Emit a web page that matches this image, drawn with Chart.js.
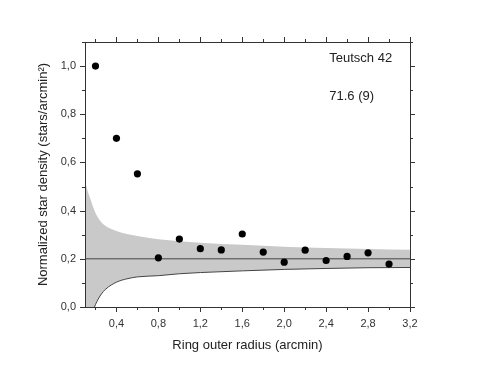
<!DOCTYPE html>
<html>
<head>
<meta charset="utf-8">
<script src="https://cdn.jsdelivr.net/npm/chart.js@4/dist/chart.umd.min.js"></script>
<style>
  body { margin: 0; background: #fff; }
  #wrap { width: 477px; height: 369px; }
</style>
</head>
<body>
<div id="wrap"><canvas id="myChart"></canvas></div>
<script>
// measured star density per ring
const radius = [0.2, 0.4, 0.6, 0.8, 1.0, 1.2, 1.4, 1.6, 1.8, 2.0, 2.2, 2.4, 2.6, 2.8, 3.0];
const density = [1.0, 0.70, 0.553, 0.204, 0.282, 0.242, 0.237, 0.303, 0.228, 0.186, 0.236, 0.193, 0.210, 0.225, 0.178];

// background level and its confidence band
const background = 0.2;
const bandRadius = [0.1, 0.12, 0.15, 0.2, 0.25, 0.3, 0.4, 0.5, 0.6, 0.8, 1.0, 1.2, 1.6, 2.0, 2.4, 2.8, 3.2];
const bandUpper = [0.525, 0.49, 0.45, 0.39, 0.355, 0.335, 0.315, 0.303, 0.295, 0.281, 0.273, 0.267, 0.258, 0.250, 0.245, 0.241, 0.238];
const bandLower = [-0.12, -0.09, -0.05, 0.01, 0.05, 0.075, 0.103, 0.117, 0.125, 0.130, 0.138, 0.143, 0.150, 0.156, 0.160, 0.163, 0.164];

const xRange = [0.1, 3.2];
const yRange = [0, 1.1];
const xTicks = [0.4, 0.8, 1.2, 1.6, 2.0, 2.4, 2.8, 3.2];
const yTicks = [0, 0.2, 0.4, 0.6, 0.8, 1.0];
const notes = ['Teutsch 42', '71.6 (9)'];

const comma = v => Number(v).toFixed(1).replace('.', ',');
const FONT = '"Liberation Sans", Arial, sans-serif';

// frame, mirrored tick marks and the label text
const frame = {
    id: 'frame',
    afterDraw(chart) {
        const { ctx, chartArea: a, scales: { x, y } } = chart;
        ctx.save();
        ctx.strokeStyle = '#333';
        ctx.lineWidth = 1;
        ctx.strokeRect(a.left + 0.5, a.top + 0.5, a.right - a.left, a.bottom - a.top);
        ctx.beginPath();
        for (let i = 1; i <= 16; i++) {
            const px = Math.round(x.getPixelForValue(i * 0.2)) + 0.5;
            const len = i % 2 === 0 ? 5 : 3;
            ctx.moveTo(px, a.bottom); ctx.lineTo(px, a.bottom + len);
            ctx.moveTo(px, a.top); ctx.lineTo(px, a.top - len);
        }
        for (let i = 0; i <= 11; i++) {
            const py = Math.round(y.getPixelForValue(i * 0.1)) + 0.5;
            const len = i % 2 === 0 ? 5 : 3;
            ctx.moveTo(a.left, py); ctx.lineTo(a.left - len, py);
            ctx.moveTo(a.right, py); ctx.lineTo(a.right + len, py);
        }
        ctx.stroke();

        ctx.fillStyle = '#222';
        ctx.font = '13px ' + FONT;
        ctx.textBaseline = 'middle';
        ctx.fillText(notes[0], x.getPixelForValue(2.43), y.getPixelForValue(1.033));
        ctx.fillText(notes[1], x.getPixelForValue(2.43), y.getPixelForValue(0.876));
        ctx.restore();
    }
};

const ctx = document.getElementById('myChart').getContext('2d');
const myChart = new Chart(ctx, {
    type: 'scatter',
    data: {
        datasets: [
            {
                label: 'density',
                data: radius.map((r, i) => ({ x: r, y: density[i] })),
                backgroundColor: '#000',
                borderWidth: 0,
                pointRadius: 3.6,
                showLine: false,
                order: 0
            },
            {
                label: 'background',
                data: xRange.map(r => ({ x: r, y: background })),
                showLine: true,
                pointRadius: 0,
                borderWidth: 1,
                borderColor: '#444',
                fill: false,
                order: 1
            },
            {
                label: 'upper',
                data: bandRadius.map((r, i) => ({ x: r, y: bandUpper[i] })),
                showLine: true,
                pointRadius: 0,
                borderWidth: 0,
                borderColor: 'rgba(0,0,0,0)',
                backgroundColor: '#c9c9c9',
                cubicInterpolationMode: 'monotone',
                fill: '+1',
                order: 2
            },
            {
                label: 'lower',
                data: bandRadius.map((r, i) => ({ x: r, y: bandLower[i] })),
                showLine: true,
                pointRadius: 0,
                borderWidth: 1,
                borderColor: '#444',
                cubicInterpolationMode: 'monotone',
                fill: false,
                order: 2
            }
        ]
    },
    options: {
        responsive: true,
        maintainAspectRatio: false,
        animation: false,
        events: [],
        layout: { padding: { top: 42, right: 67, left: 0, bottom: 0 } },
        plugins: {
            legend: { display: false },
            tooltip: { enabled: false },
            filler: { drawTime: 'beforeDatasetsDraw' }
        },
        scales: {
            x: {
                type: 'linear',
                min: xRange[0],
                max: xRange[1],
                afterBuildTicks: s => { s.ticks = xTicks.map(v => ({ value: v })); },
                afterFit: s => { s.height = 62; },
                grid: { display: false, drawTicks: false },
                border: { display: false },
                ticks: {
                    padding: 10,
                    color: '#333',
                    font: { family: FONT, size: 11 },
                    maxRotation: 0,
                    callback: v => comma(v)
                },
                title: {
                    display: true,
                    text: 'Ring outer radius (arcmin)',
                    color: '#222',
                    font: { family: FONT, size: 13 },
                    padding: { top: 0, bottom: 16 }
                }
            },
            y: {
                type: 'linear',
                min: yRange[0],
                max: yRange[1],
                afterBuildTicks: s => { s.ticks = yTicks.map(v => ({ value: v })); },
                afterFit: s => { s.width = 85; },
                grid: { display: false, drawTicks: false },
                border: { display: false },
                ticks: {
                    padding: 9,
                    color: '#333',
                    font: { family: FONT, size: 11 },
                    callback: v => comma(v)
                },
                title: {
                    display: true,
                    text: 'Normalized star density (stars/arcmin²)',
                    color: '#222',
                    font: { family: FONT, size: 13 },
                    padding: { top: 36, bottom: 0 }
                }
            }
        }
    },
    plugins: [frame]
});
</script>
</body>
</html>
